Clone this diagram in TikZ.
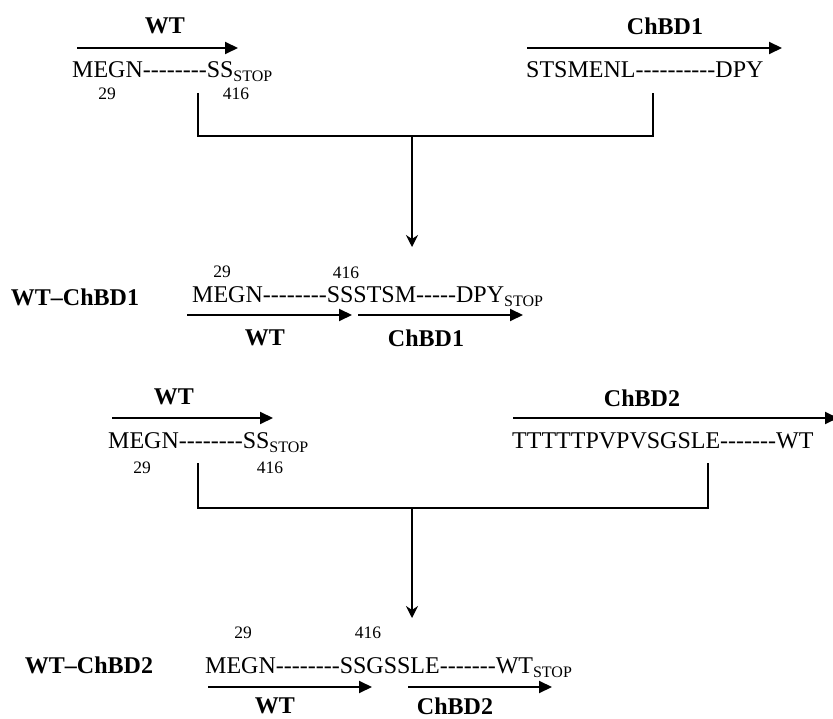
\documentclass[tikz,border=0pt]{standalone}
\usepackage{fontspec}
\setmainfont{Liberation Serif}
\newfontfamily\seqfont{Liberation Serif}
\usetikzlibrary{arrows.meta}

\newcommand{\stopsub}{\raisebox{-4pt}{\fontsize{16}{18}\selectfont STOP}}

\begin{document}
\begin{tikzpicture}
			[x = 1pt, y = -1pt,
			seq/.style = {anchor = base west, inner sep = 0pt, font = \seqfont\fontsize{24}{28}\selectfont},
			lbl/.style = {inner sep = 0pt, font = \fontsize{24}{28}\selectfont\bfseries},
			num/.style = {inner sep = 0pt, font = \fontsize{17.5}{20}\selectfont},
			bracket/.style = {line width = 1.3pt},
			orf/.style = {line width = 2pt, -{Triangle[length = 13pt, width = 12pt]}}]
			\useasboundingbox (0,0) rectangle (833,719);

			\node[lbl] (wtA) at (165,26) {WT};
			\node[lbl] (chbdA) at (665,26) {ChBD1};
			\draw[orf] (77,48) -- (238,48);
			\draw[orf] (527,48) -- (782,48);
			\node[seq] (wtseqA) at (72,78) {MEGN--------SS\stopsub};
			\node[seq] (chbdseqA) at (526,78) {STSMENL----------DPY};
			\node[num] (startA) at (107,94) {29};
			\node[num] (endA) at (236,94) {416};

			\coordinate (wtfootA) at (198,93);
			\coordinate (chbdfootA) at (653,93);
			\coordinate (mergeA) at (412,136);
			\coordinate (fusionA) at (412,247);
			\begin{scope}[bracket]
				\draw (wtfootA) |- (mergeA) -| (chbdfootA);
				\draw[-{Stealth[length = 12pt, width = 12pt, inset = 4pt]}] (mergeA) -- (fusionA);
			\end{scope}

			\node[lbl] (fusA) at (75,297) {WT–ChBD1};
			\node[num] (fusstartA) at (222,272) {29};
			\node[num] (fusendA) at (346,273) {416};
			\node[seq] (fusseqA) at (192,303) {MEGN--------SSSTSM-----DPY\stopsub};
			\draw[orf] (187,315) -- (352,315);
			\draw[orf] (358,315) -- (523,315);
			\node[lbl] (fuswtA) at (265,338) {WT};
			\node[lbl] (fuschbdA) at (426,338) {ChBD1};

			\node[lbl] (wtB) at (174,397) {WT};
			\node[lbl] (chbdB) at (642,398) {ChBD2};
			\draw[orf] (112,418) -- (273,418);
			\draw[orf] (513,418) -- (838,418);
			\node[seq] (wtseqB) at (108,448) {MEGN--------SS\stopsub};
			\node[seq] (chbdseqB) at (512,448) {TTTTTPVPVSGSLE-------WT};
			\node[num] (startB) at (142,468) {29};
			\node[num] (endB) at (270,468) {416};

			\coordinate (wtfootB) at (198,463);
			\coordinate (chbdfootB) at (708,463);
			\coordinate (mergeB) at (412,508);
			\coordinate (fusionB) at (412,618);
			\begin{scope}[bracket]
				\draw (wtfootB) |- (mergeB) -| (chbdfootB);
				\draw[-{Stealth[length = 12pt, width = 12pt, inset = 4pt]}] (mergeB) -- (fusionB);
			\end{scope}

			\node[lbl] (fusB) at (89,665) {WT–ChBD2};
			\node[num] (fusstartB) at (243,633) {29};
			\node[num] (fusendB) at (368,633) {416};
			\node[seq] (fusseqB) at (205,673) {MEGN--------SSGSSLE-------WT\stopsub};
			\draw[orf] (208,687) -- (372,687);
			\draw[orf] (408,687) -- (552,687);
			\node[lbl] (fuswtB) at (275,706) {WT};
			\node[lbl] (fuschbdB) at (455,706) {ChBD2};
		\end{tikzpicture}
\end{document}
